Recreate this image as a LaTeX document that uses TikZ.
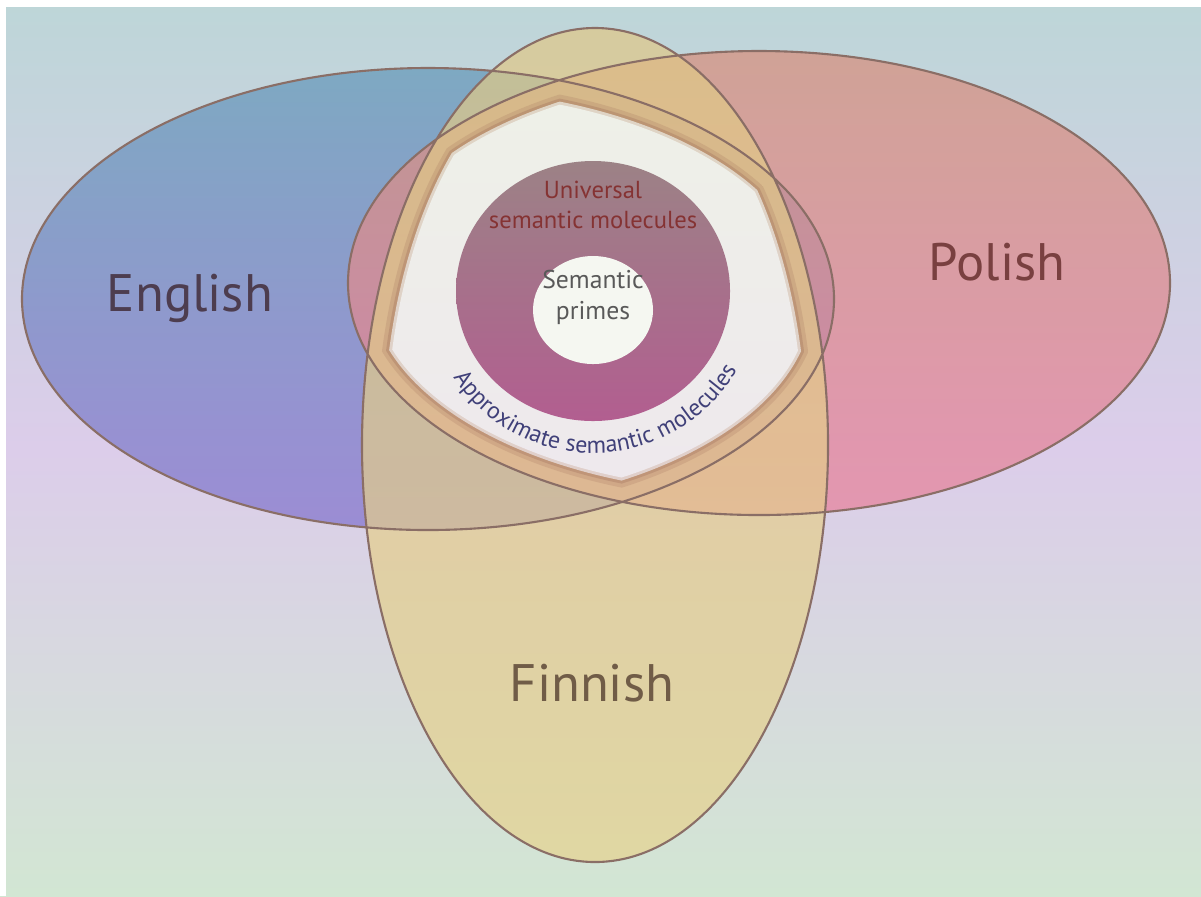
\documentclass[tikz,border=0pt]{standalone}
\usepackage{fontspec}
\setmainfont{PT Sans}
\usetikzlibrary{decorations.text}

\definecolor{bgtop}{HTML}{BDD6D8}
\definecolor{bgmid}{HTML}{DCCDEA}
\definecolor{bgbot}{HTML}{D2E6D3}
\definecolor{engtop}{HTML}{6E9EBC}
\definecolor{engbot}{HTML}{8C7CD0}
\definecolor{poltop}{HTML}{D69280}
\definecolor{polbot}{HTML}{E6849F}
\definecolor{fintop}{HTML}{E0C886}
\definecolor{finbot}{HTML}{E6D28E}
\definecolor{rim}{HTML}{9C6A58}
\definecolor{innertop}{HTML}{EEF1E7}
\definecolor{innerbot}{HTML}{EEE2F2}
\definecolor{disctop}{HTML}{9C8286}
\definecolor{discbot}{HTML}{B25E90}
\definecolor{edge}{HTML}{8A6E66}
\definecolor{labelc}{HTML}{4D3D4F}

\tikzset{
  lang/.style={font=\fontsize{15}{18}\selectfont, text=labelc},
  small/.style={font=\fontsize{7}{8.4}\selectfont, align=center},
}

\begin{document}
\begin{tikzpicture}[x=0.01cm,y=-0.01cm]
	\useasboundingbox (0,0) rectangle (1201,896);
	\shade[top color=bgtop, bottom color=bgbot, middle color=bgmid] (0,0) rectangle (1201,896);
	\fill[white] (0,0) rectangle (1201,7); \fill[white] (0,0) rectangle (6,896);
	\coordinate (E) at (428,299); \coordinate (P) at (759,283);
	\coordinate (F) at (595,445); \coordinate (C) at (593,291);
	% the three languages
	\shade[top color=engtop, bottom color=engbot, fill opacity=0.8] (E) ellipse [x radius=406, y radius=231];
	\shade[top color=poltop, bottom color=polbot, fill opacity=0.75] (P) ellipse [x radius=411, y radius=232];
	\shade[top color=fintop, bottom color=finbot, fill opacity=0.7] (F) ellipse [x radius=233, y radius=417];
	\draw[edge, line width=0.6pt] (E) ellipse [x radius=406, y radius=231]
	  (P) ellipse [x radius=411, y radius=232] (F) ellipse [x radius=233, y radius=417];
	% shared part, with a soft rim
	\foreach \d/\op in {14/0.2, 18/0.3, 21/0.7, 24/1}{
	  \pgfmathsetmacro\ex{406-\d} \pgfmathsetmacro\ey{231-\d}
	  \pgfmathsetmacro\px{411-\d} \pgfmathsetmacro\py{232-\d}
	  \pgfmathsetmacro\fx{233-\d} \pgfmathsetmacro\fy{417-\d}
	  \begin{scope}
	    \clip (E) ellipse [x radius=\ex, y radius=\ey];
	    \clip (P) ellipse [x radius=\px, y radius=\py];
	    \ifdim\d pt<20pt
	      \fill[rim, opacity=\op] (F) ellipse [x radius=\fx, y radius=\fy];
	    \else
	      \shade[top color=innertop, bottom color=innerbot, opacity=\op] (F) ellipse [x radius=\fx, y radius=\fy];
	    \fi
	  \end{scope}
	}
	\shade[top color=disctop, bottom color=discbot] (C) ellipse [x radius=137, y radius=130];
	\fill[innertop!60!white] (593,310) ellipse [x radius=60, y radius=54];
	\node[small, text=red!40!black!80] (univ) at (593,205) {Universal\\semantic molecules};
	\node[small, font=\fontsize{7.3}{8.8}\selectfont, text=black!65] (prime) at (593,297) {Semantic\\primes};
	\path[decorate, decoration={text along path, text align=center,
	  text={|\fontsize{6.8}{8}\selectfont\color{blue!30!black!75}|Approximate semantic molecules}}]
	  (C) ++(155:165 and 162) arc [start angle=155, end angle=22, x radius=165, y radius=162];
	\node[lang] (eng) at (190,298) {English};
	\node[lang, text=red!30!black!75] (pol) at (997,262) {Polish};
	\node[lang, text=brown!40!black!80] (fin) at (592,683) {Finnish};
\end{tikzpicture}
\end{document}
